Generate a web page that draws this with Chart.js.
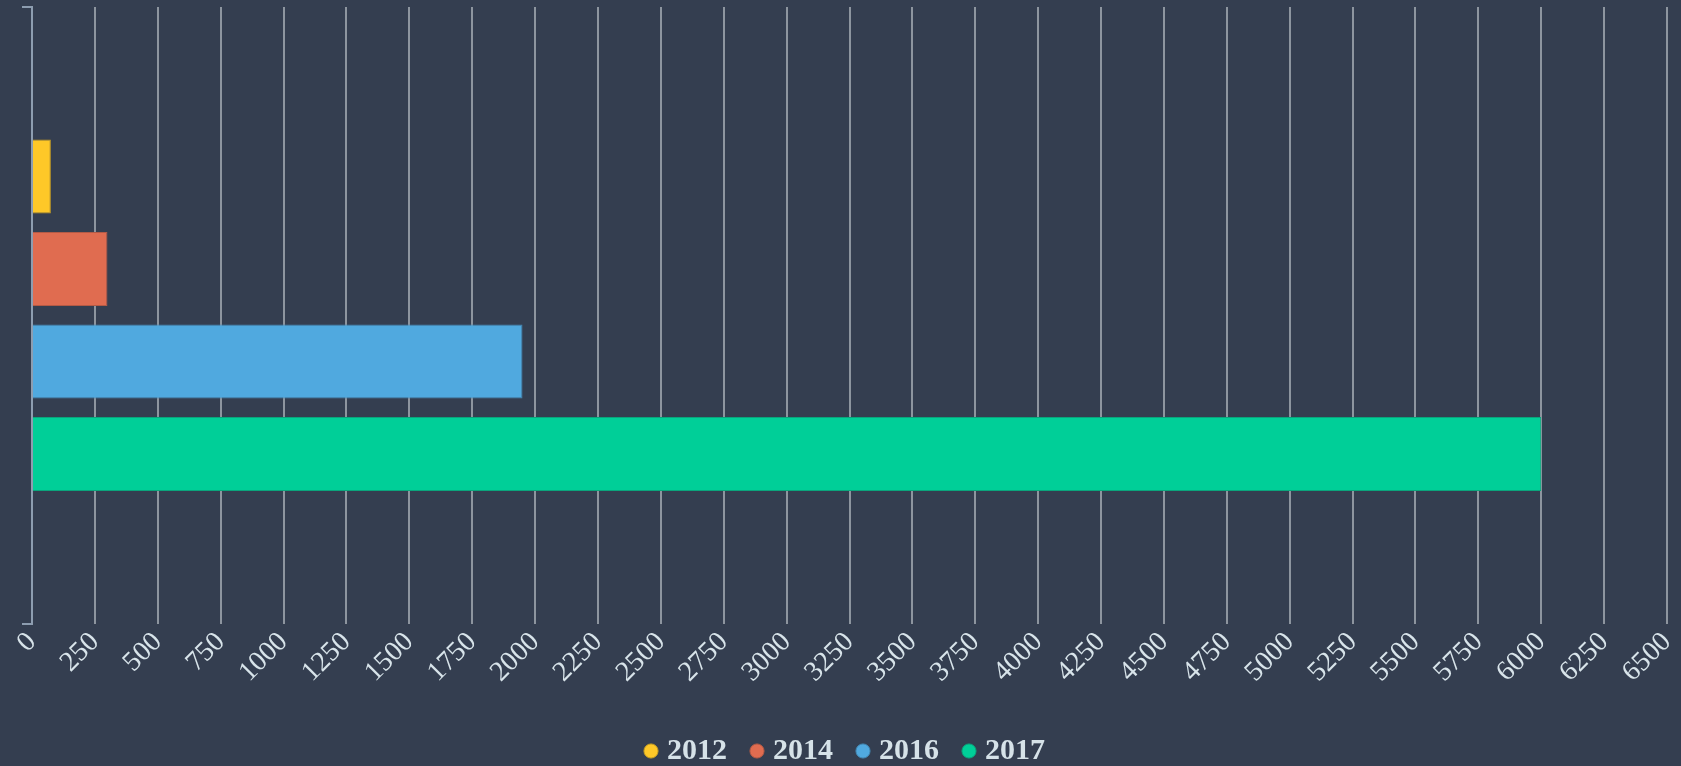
<!DOCTYPE html>
<html>
<head>
<meta charset="utf-8">
<script src="https://cdn.jsdelivr.net/npm/chart.js@4.4.0/dist/chart.umd.min.js"></script>
<style>
    html, body { margin: 0; padding: 0; background: #343e50; }
    #wrap { width: 1681px; height: 766px; position: relative; }
</style>
</head>
<body>
<div id="wrap"><canvas id="chart"></canvas></div>
<script>
// 데이터
const categories = [""];
const years = ["2012", "2014", "2016", "2017"];
const values2012 = [75];
const values2014 = [300];
const values2016 = [1950];
const values2017 = [6000];
const xTicks = [0, 250, 500, 750, 1000, 1250, 1500, 1750, 2000, 2250, 2500, 2750, 3000,
    3250, 3500, 3750, 4000, 4250, 4500, 4750, 5000, 5250, 5500, 5750, 6000, 6250, 6500];

const colors = ["#fec828", "#e06c50", "#50a9df", "#00cf98"];
const borders = ["#c9a022", "#b45a45", "#4389b5", "#0aa57c"];
const seriesValues = [values2012, values2014, values2016, values2017];

Chart.defaults.font.family = "'Liberation Serif', 'Times New Roman', serif";

// 범례를 오른쪽으로 약간 이동
const legendShift = {
    id: "legendShift",
    afterLayout(chart) {
        chart.legend.left += 14;
        chart.legend.right += 14;
    },
};

const ctx = document.getElementById("chart").getContext("2d");

new Chart(ctx, {
    type: "bar",
    data: {
        labels: categories,
        datasets: years.map((year, i) => ({
            label: year,
            data: seriesValues[i],
            backgroundColor: colors[i],
            borderColor: borders[i],
            borderWidth: 1,
            categoryPercentage: 0.6,
            barPercentage: 0.8,
        })),
    },
    plugins: [legendShift],
    options: {
        indexAxis: "y",
        responsive: true,
        maintainAspectRatio: false,
        animation: false,
        layout: {
            // 범례를 조금 아래로 내림
            padding: { top: 7, right: 14, left: 0, bottom: -10 },
        },
        plugins: {
            tooltip: { enabled: false },
            legend: {
                position: "bottom",
                labels: {
                    color: "#d6e2e8",
                    usePointStyle: true,
                    pointStyle: "circle",
                    boxWidth: 2,
                    boxHeight: 10,
                    padding: 29,
                    font: { size: 30, weight: "bold" },
                },
            },
        },
        scales: {
            x: {
                min: 0,
                max: 6500,
                afterBuildTicks: (scale) => {
                    scale.ticks = xTicks.map((v) => ({ value: v }));
                },
                afterFit: (scale) => {
                    scale.paddingLeft = 0;
                    scale.paddingRight = 0;
                    scale.height += 16;
                },
                ticks: {
                    color: "#d8e4ea",
                    font: { size: 28 },
                    minRotation: 45,
                    maxRotation: 45,
                    autoSkip: false,
                    padding: 2,
                    callback: (value) => String(value), // 쉼표 없이 표시
                },
                grid: {
                    color: "#8d959f",
                    lineWidth: 2,
                    drawTicks: false,
                },
                border: { display: false },
            },
            y: {
                afterFit: (scale) => {
                    scale.width = 32;
                },
                ticks: { display: false },
                grid: {
                    drawOnChartArea: false,
                    drawTicks: true,
                    tickLength: 10,
                    color: "#8d9db0",
                    lineWidth: 2,
                },
                border: { color: "#8d9db0", width: 2 },
            },
        },
    },
});
</script>
</body>
</html>
